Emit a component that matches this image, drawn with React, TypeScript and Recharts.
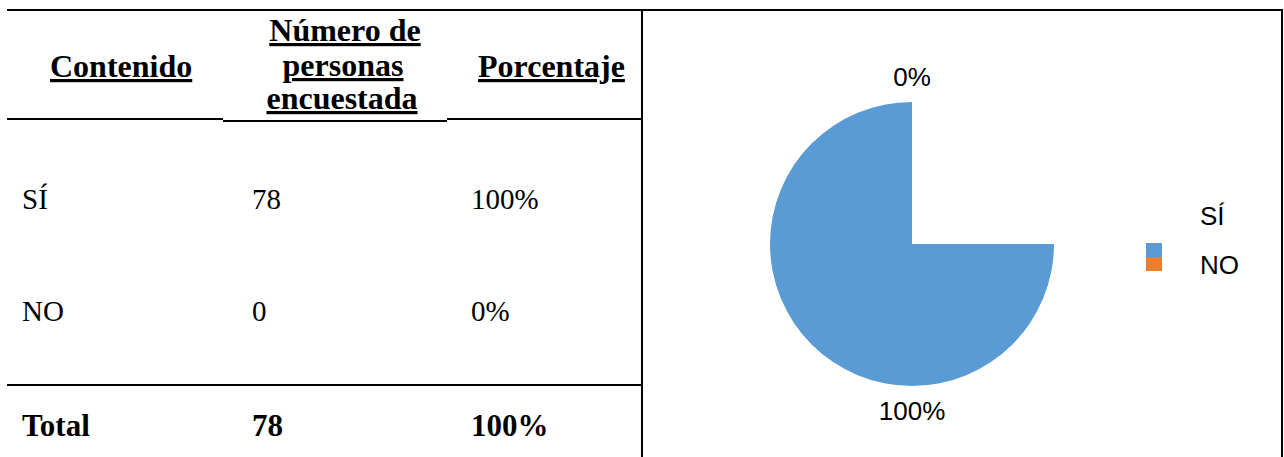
import { PieChart, Pie, Cell, Legend } from "recharts";

const categories = ["SÍ", "NO"];
const counts = [78, 0];
const percents = ["100%", "0%"];
const totalLabel = "Total";
const totalCount = "78";
const totalPercent = "100%";
const headers = ["Contenido", "Número de personas encuestada", "Porcentaje"];

const COLORS = ["#5B9BD5", "#ED7D31"];
const RAD = Math.PI / 180;

const pieData = categories.map((name, i) => ({ name, value: counts[i] }));

const serif = "'Liberation Serif', 'Times New Roman', serif";
const sans = "'Liberation Sans', Arial, sans-serif";

// eslint-disable-next-line @typescript-eslint/no-explicit-any
const renderLabel = (props: any) => {
  const { cx, cy, midAngle, outerRadius, percent } = props;
  const r = outerRadius + 25;
  const x = cx + r * Math.cos(-midAngle * RAD);
  const y = cy + r * Math.sin(-midAngle * RAD);
  return (
    <text
      x={x}
      y={y}
      textAnchor="middle"
      dominantBaseline="central"
      fill="#000"
      fontSize={26}
      fontFamily={sans}
    >
      {`${Math.round((percent || 0) * 100)}%`}
    </text>
  );
};

const renderLegend = () => (
  <div style={{ position: "relative", width: 110, height: 90, fontFamily: sans }}>
    {categories.map((c, i) => (
      <div
        key={c}
        style={{
          position: "absolute",
          left: 0,
          top: 42 + i * 14,
          width: 16,
          height: 14,
          background: COLORS[i],
        }}
      />
    ))}
    {categories.map((c, i) => (
      <div
        key={c + "t"}
        style={{
          position: "absolute",
          left: 54,
          top: i * 49,
          fontSize: 26,
          lineHeight: "30px",
          color: "#000",
        }}
      >
        {c}
      </div>
    ))}
  </div>
);

export default function App() {
  return (
    <div
      style={{
        position: "absolute",
        left: 0,
        top: 0,
        width: 1284,
        height: 457,
        background: "#fff",
        overflow: "hidden",
      }}
    >
      {/* table side */}
      <svg width={642} height={457} style={{ position: "absolute", left: 0, top: 0 }}>
        <line x1={7} x2={642} y1={10} y2={10} stroke="#000" strokeWidth={2} />
        <line x1={7} x2={223} y1={119} y2={119} stroke="#000" strokeWidth={2} />
        <line x1={223} x2={447} y1={121} y2={121} stroke="#000" strokeWidth={2} />
        <line x1={447} x2={642} y1={119} y2={119} stroke="#000" strokeWidth={2} />
        <line x1={7} x2={642} y1={385} y2={385} stroke="#000" strokeWidth={2} />

        <g fontFamily={serif} fontWeight="bold" fontSize={32} fill="#000" textDecoration="underline">
          <text x={50} y={77}>{headers[0]}</text>
          <text x={345} y={41} textAnchor="middle">Número de</text>
          <text x={343} y={76} textAnchor="middle">personas</text>
          <text x={342} y={109} textAnchor="middle" textDecoration="none">encuestada</text>
          <text x={478} y={77}>{headers[2]}</text>
        </g>

        <g fontFamily={serif} fontSize={29} fill="#000">
          {categories.map((c, i) => (
            <g key={c}>
              <text x={22} y={209 + i * 112}>{c}</text>
              <text x={252} y={209 + i * 112}>{counts[i]}</text>
              <text x={471} y={209 + i * 112}>{percents[i]}</text>
            </g>
          ))}
        </g>

        <g fontFamily={serif} fontWeight="bold" fontSize={31} fill="#000">
          <text x={22} y={436}>{totalLabel}</text>
          <text x={252} y={436}>{totalCount}</text>
          <text x={471} y={436}>{totalPercent}</text>
        </g>
      </svg>

      {/* chart panel */}
      <div
        style={{
          position: "absolute",
          left: 641,
          top: 9,
          width: 638,
          height: 460,
          borderLeft: "2px solid #000",
          borderRight: "2px solid #000",
          borderTop: "2px solid #000",
        }}
      />
      <div style={{ position: "absolute", left: 643, top: 11 }}>
        <PieChart width={636} height={446}>
          <Pie
            data={pieData}
            dataKey="value"
            nameKey="name"
            cx={264}
            cy={228}
            outerRadius={142}
            startAngle={90}
            endAngle={360}
            stroke="none"
            isAnimationActive={false}
          >
            {pieData.map((d, i) => (
              <Cell key={d.name} fill={COLORS[i]} />
            ))}
          </Pie>
          <Pie
            data={pieData}
            dataKey="value"
            nameKey="name"
            cx={264}
            cy={228}
            outerRadius={142}
            startAngle={90}
            endAngle={-270}
            fill="transparent"
            stroke="none"
            legendType="none"
            label={renderLabel}
            labelLine={false}
            isAnimationActive={false}
          />
          <Legend
            content={renderLegend}
            wrapperStyle={{ position: "absolute", left: 503, top: 190, width: 110 }}
          />
        </PieChart>
      </div>
    </div>
  );
}
